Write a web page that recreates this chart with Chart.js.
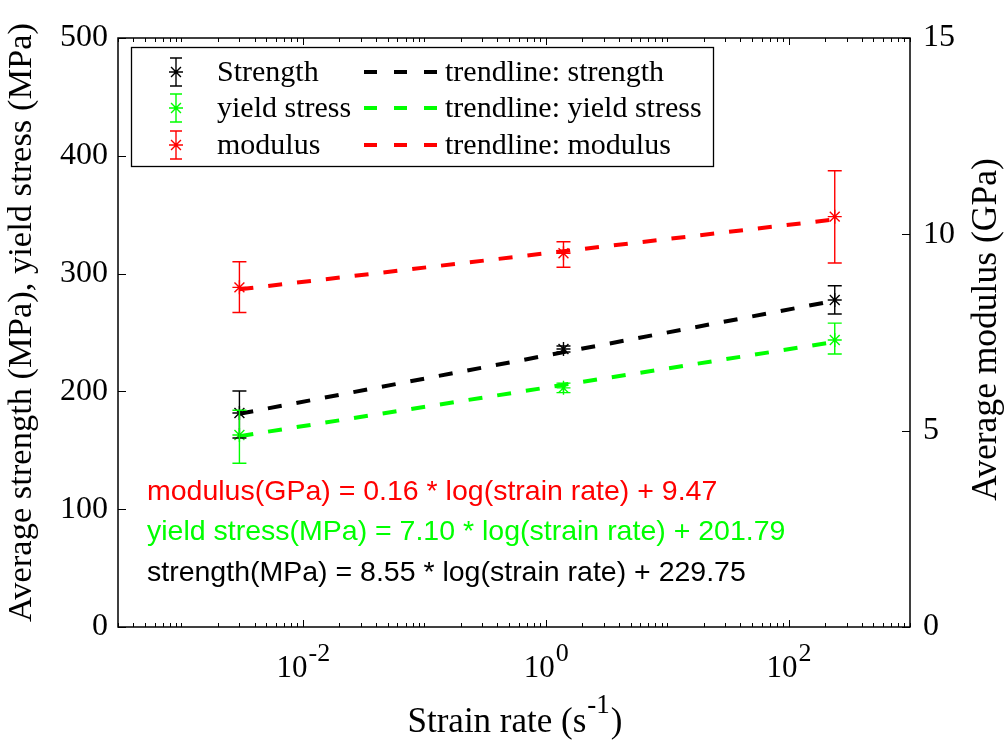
<!DOCTYPE html>
<html>
<head>
<meta charset="utf-8">
<script src="https://cdn.jsdelivr.net/npm/chart.js@4.4.1/dist/chart.umd.min.js"></script>
<style>
  html, body { margin: 0; padding: 0; background: #fff; }
  #wrap { width: 1005px; height: 743px; }
</style>
</head>
<body>
<div id="wrap"><canvas id="chart" width="1005" height="743"></canvas></div>
<script>
// strain rate (s^-1) of the three test groups
const strainRate = [0.003, 1.4, 240];

// strength (MPa), mean and error bar ends
const strengthMean = [181.7, 236, 277.6];
const strengthLow  = [160.4, 233.5, 265.7];
const strengthHigh = [200.3, 238.5, 289.7];

// yield stress (MPa)
const yieldMean = [163, 203, 243.6];
const yieldLow  = [139, 199, 231.7];
const yieldHigh = [184, 207, 258];

// modulus (GPa), right axis
const modulusMean = [8.65, 9.52, 10.45];
const modulusLow  = [8.01, 9.16, 9.27];
const modulusHigh = [9.30, 9.81, 11.62];

// trendline end points
const trendRate     = [0.003, 240];
const strengthTrend = [181, 277];
const yieldTrend    = [162, 242];
const modulusTrend  = [8.6, 10.38];

// ticks
const xMajorTicks = [1e-2, 1, 1e2];
const xTickLabels = [['10', '-2'], ['10', '0'], ['10', '2']];
const yLeftTicks  = [0, 100, 200, 300, 400, 500];
const yRightTicks = [0, 5, 10, 15];

const seriesNames = ['Strength', 'yield stress', 'modulus'];
const trendNames  = ['trendline: strength', 'trendline: yield stress', 'trendline: modulus'];
const equations = [
  'modulus(GPa) = 0.16 * log(strain rate) + 9.47',
  'yield stress(MPa) = 7.10 * log(strain rate) + 201.79',
  'strength(MPa) = 8.55 * log(strain rate) + 229.75'
];

const BLACK = '#000000', GREEN = '#00ff00', RED = '#ff0000';
const SERIF = '"Liberation Serif", "Times New Roman", serif';
const SANS  = '"Liberation Sans", Arial, sans-serif';

const pts = (xs, ys) => xs.map((x, i) => ({ x: x, y: ys[i] }));

function markerSet(label, ys, color, axis) {
  return {
    label: label, data: pts(strainRate, ys), yAxisID: axis,
    showLine: false, pointStyle: 'star', pointRadius: 7,
    borderColor: color, backgroundColor: color, pointBorderWidth: 1.4
  };
}
function trendSet(label, ys, color, axis) {
  return {
    label: label, data: pts(trendRate, ys), yAxisID: axis,
    showLine: true, pointRadius: 0, borderColor: color, borderWidth: 4,
    borderDash: [14, 15], fill: false
  };
}

// error bars, ticks, box, legend and texts in MATLAB style
const decor = {
  id: 'decor',
  afterDatasetsDraw(chart) {
    const ctx = chart.ctx;
    const xs = chart.scales.x;
    const bars = [
      [strengthLow, strengthHigh, BLACK, 'y'],
      [yieldLow, yieldHigh, GREEN, 'y'],
      [modulusLow, modulusHigh, RED, 'y1']
    ];
    ctx.save();
    ctx.lineWidth = 1.4;
    bars.forEach(([lo, hi, color, axis]) => {
      const ys = chart.scales[axis];
      ctx.strokeStyle = color;
      strainRate.forEach((r, i) => {
        const px = xs.getPixelForValue(r);
        const p1 = ys.getPixelForValue(lo[i]);
        const p2 = ys.getPixelForValue(hi[i]);
        ctx.beginPath();
        ctx.moveTo(px, p1); ctx.lineTo(px, p2);
        ctx.moveTo(px - 7, p1); ctx.lineTo(px + 7, p1);
        ctx.moveTo(px - 7, p2); ctx.lineTo(px + 7, p2);
        ctx.stroke();
      });
    });
    ctx.restore();
  },
  afterDraw(chart) {
    const ctx = chart.ctx;
    const a = chart.chartArea;
    const xs = chart.scales.x, yl = chart.scales.y, yr = chart.scales.y1;
    ctx.save();

    // box
    ctx.strokeStyle = BLACK;
    ctx.lineWidth = 1.5;
    ctx.strokeRect(a.left, a.top, a.right - a.left, a.bottom - a.top);

    // x ticks (inward, top and bottom)
    ctx.lineWidth = 1;
    ctx.beginPath();
    for (let e = -4; e <= 3; e++) {
      for (let k = 1; k <= 9; k++) {
        const v = k * Math.pow(10, e);
        if (v < xs.min || v > xs.max) continue;
        const px = Math.round(xs.getPixelForValue(v)) + 0.5;
        const len = (k === 1 && e % 2 === 0) ? 7 : 4;
        ctx.moveTo(px, a.bottom); ctx.lineTo(px, a.bottom - len);
        ctx.moveTo(px, a.top); ctx.lineTo(px, a.top + len);
      }
    }
    // y ticks
    yLeftTicks.forEach(v => {
      const py = Math.round(yl.getPixelForValue(v)) + 0.5;
      ctx.moveTo(a.left, py); ctx.lineTo(a.left + 8, py);
    });
    yRightTicks.forEach(v => {
      const py = Math.round(yr.getPixelForValue(v)) + 0.5;
      ctx.moveTo(a.right, py); ctx.lineTo(a.right - 8, py);
    });
    ctx.stroke();

    // x tick labels with superscript
    ctx.fillStyle = BLACK;
    ctx.textBaseline = 'alphabetic';
    ctx.textAlign = 'left';
    xMajorTicks.forEach((v, i) => {
      const px = xs.getPixelForValue(v);
      ctx.font = '31px ' + SERIF;
      const w1 = ctx.measureText(xTickLabels[i][0]).width;
      ctx.font = '26px ' + SERIF;
      const w2 = ctx.measureText(xTickLabels[i][1]).width;
      const x0 = px - (w1 + w2) / 2;
      ctx.font = '31px ' + SERIF;
      ctx.fillText(xTickLabels[i][0], x0, 677);
      ctx.font = '26px ' + SERIF;
      ctx.fillText(xTickLabels[i][1], x0 + w1 + 1, 661);
    });

    // x title
    const cx = (a.left + a.right) / 2;
    ctx.font = '35px ' + SERIF;
    const t1 = 'Strain rate (s', t3 = ')';
    const wa = ctx.measureText(t1).width, wc = ctx.measureText(t3).width;
    ctx.font = '27px ' + SERIF;
    const wb = ctx.measureText('-1').width;
    let tx = cx - (wa + wb + wc) / 2;
    ctx.font = '35px ' + SERIF;
    ctx.fillText(t1, tx, 732);
    ctx.font = '27px ' + SERIF;
    ctx.fillText('-1', tx + wa + 1, 713);
    ctx.font = '35px ' + SERIF;
    ctx.fillText(t3, tx + wa + wb + 2, 732);

    // y titles
    const cy = (a.top + a.bottom) / 2;
    ctx.textAlign = 'center';
    ctx.textBaseline = 'middle';
    ctx.font = '34.5px ' + SERIF;
    ctx.save();
    ctx.translate(22, cy - 10);
    ctx.rotate(-Math.PI / 2);
    ctx.fillText('Average strength (MPa), yield stress (MPa)', 0, 0);
    ctx.restore();
    ctx.font = '35.5px ' + SERIF;
    ctx.save();
    ctx.translate(987, cy - 3);
    ctx.rotate(-Math.PI / 2);
    ctx.fillText('Average modulus (GPa)', 0, 0);
    ctx.restore();

    // equations
    ctx.textAlign = 'left';
    ctx.font = '28.5px ' + SANS;
    [RED, GREEN, BLACK].forEach((c, i) => {
      ctx.fillStyle = c;
      ctx.fillText(equations[i], 147, 492 + i * 40.5);
    });

    // legend
    const L = { left: 131, top: 47, right: 713, bottom: 166 };
    ctx.fillStyle = '#fff';
    ctx.fillRect(L.left, L.top, L.right - L.left, L.bottom - L.top);
    ctx.strokeStyle = BLACK;
    ctx.lineWidth = 1.3;
    ctx.strokeRect(L.left + 0.5, L.top + 0.5, L.right - L.left, L.bottom - L.top);
    const rows = [72, 108, 145];
    const colors = [BLACK, GREEN, RED];
    ctx.font = '30px ' + SERIF;
    ctx.textBaseline = 'middle';
    rows.forEach((ry, i) => {
      const c = colors[i];
      const mx = 176;
      ctx.strokeStyle = c;
      ctx.lineWidth = 1.4;
      ctx.beginPath();
      ctx.moveTo(mx, ry - 14); ctx.lineTo(mx, ry + 14);
      ctx.moveTo(mx - 6, ry - 14); ctx.lineTo(mx + 6, ry - 14);
      ctx.moveTo(mx - 6, ry + 14); ctx.lineTo(mx + 6, ry + 14);
      // star marker
      const r = 7;
      ctx.moveTo(mx - r, ry); ctx.lineTo(mx + r, ry);
      const d = r * Math.SQRT1_2;
      ctx.moveTo(mx - d, ry - d); ctx.lineTo(mx + d, ry + d);
      ctx.moveTo(mx - d, ry + d); ctx.lineTo(mx + d, ry - d);
      ctx.stroke();
      ctx.fillStyle = BLACK;
      ctx.fillText(seriesNames[i], 217, ry + 1);
      // dashed trend sample
      ctx.lineWidth = 4;
      ctx.setLineDash([13, 17]);
      ctx.beginPath();
      ctx.moveTo(364, ry); ctx.lineTo(438, ry);
      ctx.stroke();
      ctx.setLineDash([]);
      ctx.fillText(trendNames[i], 445, ry + 1);
    });

    ctx.restore();
  }
};

const ctx = document.getElementById('chart').getContext('2d');
new Chart(ctx, {
  type: 'scatter',
  data: {
    datasets: [
      trendSet(trendNames[0], strengthTrend, BLACK, 'y'),
      trendSet(trendNames[1], yieldTrend, GREEN, 'y'),
      trendSet(trendNames[2], modulusTrend, RED, 'y1'),
      markerSet(seriesNames[0], strengthMean, BLACK, 'y'),
      markerSet(seriesNames[1], yieldMean, GREEN, 'y'),
      markerSet(seriesNames[2], modulusMean, RED, 'y1')
    ]
  },
  options: {
    responsive: false,
    animation: false,
    devicePixelRatio: 1,
    layout: { padding: { top: 38, left: 0, right: 0, bottom: 0 } },
    plugins: { legend: { display: false }, tooltip: { enabled: false } },
    scales: {
      x: {
        type: 'logarithmic',
        min: Math.pow(10, -3.5),
        max: 1000,
        grid: { display: false },
        border: { display: false },
        ticks: { display: false },
        afterFit: s => { s.height = 116; }
      },
      y: {
        position: 'left',
        min: 0, max: 500,
        grid: { display: false, drawTicks: false },
        border: { display: false },
        ticks: { stepSize: 100, color: BLACK, padding: 10, font: { family: SERIF, size: 32 } },
        afterFit: s => { s.width = 118; }
      },
      y1: {
        position: 'right',
        min: 0, max: 15,
        grid: { display: false, drawTicks: false },
        border: { display: false },
        ticks: { stepSize: 5, color: BLACK, padding: 13, font: { family: SERIF, size: 32 } },
        afterFit: s => { s.width = 95; }
      }
    }
  },
  plugins: [decor]
});
</script>
</body>
</html>
